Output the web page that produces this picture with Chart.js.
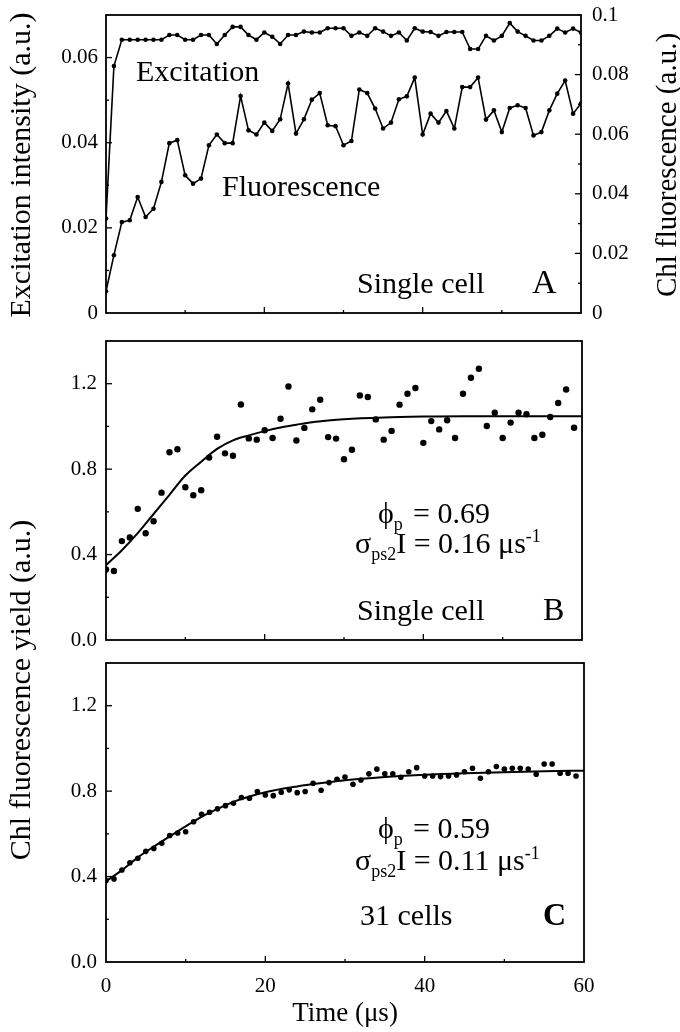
<!DOCTYPE html>
<html>
<head>
<meta charset="utf-8">
<script src="https://cdn.jsdelivr.net/npm/chart.js@4.4.1/dist/chart.umd.min.js"></script>
<style>
body { margin: 0; background: #fff; width: 680px; height: 1032px; position: relative; overflow: hidden; }
.panel { position: absolute; left: 0; width: 680px; }
</style>
</head>
<body>
<div class="panel" style="top:0;height:330px"><canvas id="chartA"></canvas></div>
<div class="panel" style="top:330px;height:330px"><canvas id="chartB"></canvas></div>
<div class="panel" style="top:330px;height:702px"><canvas id="chartC"></canvas></div>
<script>
// time axis (µs), one sample per µs
const timeA = [0,1,2,3,4,5,6,7,8,9,10,11,12,13,14,15,16,17,18,19,20,21,22,23,24,25,26,27,28,29,30,
	31,32,33,34,35,36,37,38,39,40,41,42,43,44,45,46,47,48,49,50,51,52,53,54,55,56,57,58,59,60];
const timeBC = [0,1,2,3,4,5,6,7,8,9,10,11,12,13,14,15,16,17,18,19,20,21,22,23,24,25,26,27,28,29,30,
	31,32,33,34,35,36,37,38,39,40,41,42,43,44,45,46,47,48,49,50,51,52,53,54,55,56,57,58,59];
const timeFit = [0,2,4,6,8,10,12,14,16,18,20,22,24,26,28,30,35,40,45,50,55,60];

// panel A
const excitation = [0.0222,0.058,0.0642,0.0642,0.0642,0.0642,0.0642,0.0642,0.0653,0.0653,0.0642,0.0642,0.0653,0.0653,0.0632,
	0.0653,0.0672,0.0672,0.0653,0.0642,0.0659,0.0649,0.0632,0.0653,0.0653,0.0661,0.0659,0.0659,0.0669,0.0669,0.0669,
	0.0651,0.0659,0.0651,0.0669,0.0661,0.0651,0.0659,0.064,0.0669,0.0661,0.066,0.0651,0.066,0.066,0.066,0.062,0.062,
	0.0651,0.064,0.0651,0.0681,0.0661,0.0651,0.064,0.064,0.0651,0.0668,0.0659,0.0668,0.0659];
const fluorescence = [0.0073,0.0194,0.0305,0.0311,0.0389,0.0322,0.035,0.044,0.057,0.058,0.0462,0.0434,0.0451,0.0563,0.0599,
	0.057,0.057,0.0728,0.0613,0.0599,0.0639,0.0611,0.065,0.077,0.0602,0.065,0.0716,0.0738,0.063,0.0627,0.0563,
	0.0577,0.075,0.0738,0.0686,0.0619,0.0639,0.0717,0.0727,0.079,0.0599,0.0669,0.0639,0.0678,0.0619,0.0758,0.0758,0.079,
	0.0649,0.068,0.0607,0.0688,0.0697,0.0688,0.0596,0.0607,0.068,0.0736,0.078,0.0669,0.0703];

// panel B: single cell yield + fit
const yieldB = [0.330,0.323,0.463,0.480,0.614,0.500,0.556,0.690,0.879,0.893,0.715,0.678,0.701,0.854,0.952,0.874,0.863,
	1.103,0.944,0.938,0.982,0.946,1.036,1.187,0.934,0.993,1.080,1.125,0.950,0.943,0.846,0.891,1.145,1.138,1.033,0.938,
	0.979,1.102,1.153,1.180,0.923,1.025,0.986,1.029,0.946,1.153,1.228,1.270,1.002,1.064,0.946,1.018,1.064,1.057,0.946,
	0.961,1.044,1.110,1.173,0.994];
const fitB = [0.35,0.42,0.50,0.59,0.68,0.77,0.835,0.895,0.935,0.958,0.978,0.995,1.008,1.02,1.028,1.034,1.042,1.046,1.048,1.048,1.048,1.048];

// panel C: 31 cells yield + fit
const yieldC = [0.381,0.389,0.431,0.465,0.486,0.518,0.532,0.556,0.592,0.604,0.610,0.657,0.692,0.701,0.717,0.732,0.743,
	0.770,0.767,0.798,0.782,0.779,0.795,0.806,0.793,0.798,0.837,0.804,0.840,0.856,0.866,0.832,0.852,0.881,0.903,0.881,
	0.881,0.865,0.891,0.910,0.871,0.871,0.868,0.871,0.876,0.891,0.907,0.860,0.891,0.915,0.903,0.907,0.907,0.904,0.879,
	0.927,0.927,0.884,0.884,0.871];
const fitC = [0.378,0.43,0.49,0.54,0.588,0.635,0.68,0.717,0.75,0.775,0.795,0.81,0.822,0.833,0.842,0.851,0.866,0.877,0.884,0.889,0.893,0.896];

const FONT = "'Liberation Serif', 'DejaVu Serif', serif";
const pts = (xs, ys) => xs.map((x, i) => ({ x: x, y: ys[i] }));

// ticks pointing into the plot + the closed frame
const innerTicks = {
	id: "innerTicks",
	afterDatasetsDraw(chart) {
		const ctx = chart.ctx, a = chart.chartArea;
		ctx.save();
		ctx.strokeStyle = "#000";
		ctx.lineWidth = 1.3;
		Object.values(chart.scales).forEach((s) => {
			s.ticks.forEach((t) => {
				const len = t.label === "" ? 3 : 6;
				const p = s.getPixelForValue(t.value);
				if (s.axis === "x") {
					if (p <= a.left + 1 || p >= a.right - 1) return;
					ctx.beginPath(); ctx.moveTo(p, a.bottom); ctx.lineTo(p, a.bottom - len); ctx.stroke();
				} else {
					if (p >= a.bottom - 1 || p <= a.top + 1) return;
					const x0 = s.position === "left" ? a.left : a.right;
					const dir = s.position === "left" ? 1 : -1;
					ctx.beginPath(); ctx.moveTo(x0, p); ctx.lineTo(x0 + dir * len, p); ctx.stroke();
				}
			});
		});
		ctx.lineWidth = 1.8;
		ctx.strokeRect(a.left, a.top, a.right - a.left, a.bottom - a.top);
		ctx.restore();
	},
};

// free text with sub/superscripts
const texts = {
	id: "texts",
	afterDraw(chart, args, opts) {
		const ctx = chart.ctx;
		(opts.items || []).forEach((it) => {
			ctx.save();
			ctx.translate(it.x, it.y);
			if (it.rot) ctx.rotate(it.rot);
			const size = it.size || 30;
			const w = it.bold ? "bold " : "";
			const runs = it.runs || [{ t: it.text }];
			const fontFor = (r) => w + (r.sub || r.sup ? Math.round(size * 0.6) : size) + "px " + FONT;
			let total = 0;
			runs.forEach((r) => { ctx.font = fontFor(r); total += ctx.measureText(r.t).width; });
			let x = it.align === "center" ? -total / 2 : 0;
			ctx.fillStyle = "#000";
			ctx.textBaseline = it.align === "center" ? "middle" : "alphabetic";
			runs.forEach((r) => {
				ctx.font = fontFor(r);
				const dy = r.sub ? size * 0.22 : r.sup ? -size * 0.36 : 0;
				ctx.fillText(r.t, x, dy);
				x += ctx.measureText(r.t).width;
			});
			ctx.restore();
		});
	},
};

const tickFont = { family: FONT, size: 21 };
const noGrid = { display: false, drawTicks: false };
const noBorder = { display: false };

// fixed axis size, and no extra room for the end labels
function fixSize(prop, value) {
	return (s) => {
		s[prop] = value;
		s.paddingTop = 0; s.paddingBottom = 0; s.paddingLeft = 0; s.paddingRight = 0;
	};
}

function xScale(height, showLabels) {
	return {
		type: "linear", min: 0, max: 60,
		grid: noGrid, border: noBorder,
		ticks: {
			display: showLabels, stepSize: 10, autoSkip: false, maxRotation: 0, padding: 12,
			color: "#000", font: tickFont,
			callback: (v) => (v % 20 === 0 ? String(v) : ""),
		},
		title: showLabels ? { display: true, text: "Time (μs)", color: "#000", font: { family: FONT, size: 27 }, padding: { top: 0, bottom: 2 } } : { display: false },
		afterFit: fixSize("height", height),
	};
}

function yieldScale() {
	return {
		position: "left", min: 0, max: 1.4,
		grid: noGrid, border: noBorder,
		ticks: {
			stepSize: 0.2, autoSkip: false, padding: 9, color: "#000", font: tickFont,
			callback: (v) => { const r = Math.round(v * 10); return r % 4 === 0 ? (r / 10).toFixed(1) : ""; },
		},
		afterFit: fixSize("width", 106),
	};
}

const common = { responsive: true, maintainAspectRatio: false, animation: false, events: [] };

new Chart(document.getElementById("chartA"), {
	type: "scatter",
	data: {
		datasets: [
			{ label: "Excitation", data: pts(timeA, excitation), yAxisID: "y", showLine: true,
				borderColor: "#000", borderWidth: 1.6, pointRadius: 2.3, pointBackgroundColor: "#000", pointBorderWidth: 0 },
			{ label: "Fluorescence", data: pts(timeA, fluorescence), yAxisID: "y2", showLine: true,
				borderColor: "#000", borderWidth: 1.6, pointRadius: 2.3, pointBackgroundColor: "#000", pointBorderWidth: 0 },
		],
	},
	options: {
		...common,
		layout: { padding: { top: 15, left: 0, right: 0, bottom: 0 } },
		plugins: {
			legend: { display: false }, tooltip: { enabled: false },
			texts: {
				items: [
					{ text: "Excitation intensity (a.u.)", x: 22, y: 165, rot: -Math.PI / 2, align: "center", size: 30 },
					{ text: "Chl fluorescence (a.u.)", x: 668, y: 165, rot: -Math.PI / 2, align: "center", size: 29 },
					{ text: "Excitation", x: 136, y: 81 },
					{ text: "Fluorescence", x: 222, y: 196 },
					{ text: "Single cell", x: 357, y: 293 },
					{ text: "A", x: 532, y: 293, size: 34 },
				],
			},
		},
		scales: {
			x: xScale(17, false),
			y: {
				position: "left", min: 0, max: 0.07,
				grid: noGrid, border: noBorder,
				ticks: {
					stepSize: 0.01, autoSkip: false, padding: 8, color: "#000", font: tickFont,
					callback: (v) => { const r = Math.round(v * 100); return r % 2 !== 0 ? "" : r === 0 ? "0" : (r / 100).toFixed(2); },
				},
				afterFit: fixSize("width", 106),
			},
			y2: {
				position: "right", min: 0, max: 0.1,
				grid: noGrid, border: noBorder,
				ticks: {
					stepSize: 0.01, autoSkip: false, padding: 11, color: "#000", font: tickFont,
					callback: (v) => { const r = Math.round(v * 100); return r % 2 !== 0 ? "" : r === 0 ? "0" : r === 10 ? "0.1" : (r / 100).toFixed(2); },
				},
				afterFit: fixSize("width", 99),
			},
		},
	},
	plugins: [innerTicks, texts],
});

new Chart(document.getElementById("chartB"), {
	type: "scatter",
	data: {
		datasets: [
			{ label: "Single cell", data: pts(timeBC, yieldB), pointRadius: 3.2, pointBackgroundColor: "#000", pointBorderWidth: 0 },
			{ label: "Fit", data: pts(timeFit, fitB), showLine: true, borderColor: "#000", borderWidth: 2,
				pointRadius: 0, cubicInterpolationMode: "monotone" },
		],
	},
	options: {
		...common,
		layout: { padding: { top: 11, left: 0, right: 98, bottom: 0 } },
		plugins: {
			legend: { display: false }, tooltip: { enabled: false },
			texts: {
				items: [
					{ runs: [{ t: "ϕ" }, { t: "p", sub: true }], x: 378, y: 193 },
					{ text: "= 0.69", x: 413, y: 193 },
					{ runs: [{ t: "σ" }, { t: "ps2", sub: true }, { t: "I = 0.16 μs" }, { t: "-1", sup: true }], x: 355, y: 223 },
					{ text: "Single cell", x: 357, y: 290 },
					{ text: "B", x: 543, y: 290, size: 32 },
				],
			},
		},
		scales: { x: xScale(20, false), y: yieldScale() },
	},
	plugins: [innerTicks, texts],
});

new Chart(document.getElementById("chartC"), {
	type: "scatter",
	data: {
		datasets: [
			{ label: "31 cells", data: pts(timeBC, yieldC), pointRadius: 2.8, pointBackgroundColor: "#000", pointBorderWidth: 0 },
			{ label: "Fit", data: pts(timeFit, fitC), showLine: true, borderColor: "#000", borderWidth: 2,
				pointRadius: 0, cubicInterpolationMode: "monotone" },
		],
	},
	options: {
		...common,
		layout: { padding: { top: 333, left: 0, right: 96, bottom: 0 } },
		plugins: {
			legend: { display: false }, tooltip: { enabled: false },
			texts: {
				items: [
					{ text: "Chl fluorescence yield (a.u.)", x: 22, y: 360, rot: -Math.PI / 2, align: "center", size: 30 },
					{ runs: [{ t: "ϕ" }, { t: "p", sub: true }], x: 378, y: 508 },
					{ text: "= 0.59", x: 413, y: 508 },
					{ runs: [{ t: "σ" }, { t: "ps2", sub: true }, { t: "I = 0.11 μs" }, { t: "-1", sup: true }], x: 355, y: 540 },
					{ text: "31 cells", x: 360, y: 595 },
					{ text: "C", x: 543, y: 595, size: 32, bold: true },
				],
			},
		},
		scales: { x: xScale(70, true), y: yieldScale() },
	},
	plugins: [innerTicks, texts],
});
</script>
</body>
</html>
